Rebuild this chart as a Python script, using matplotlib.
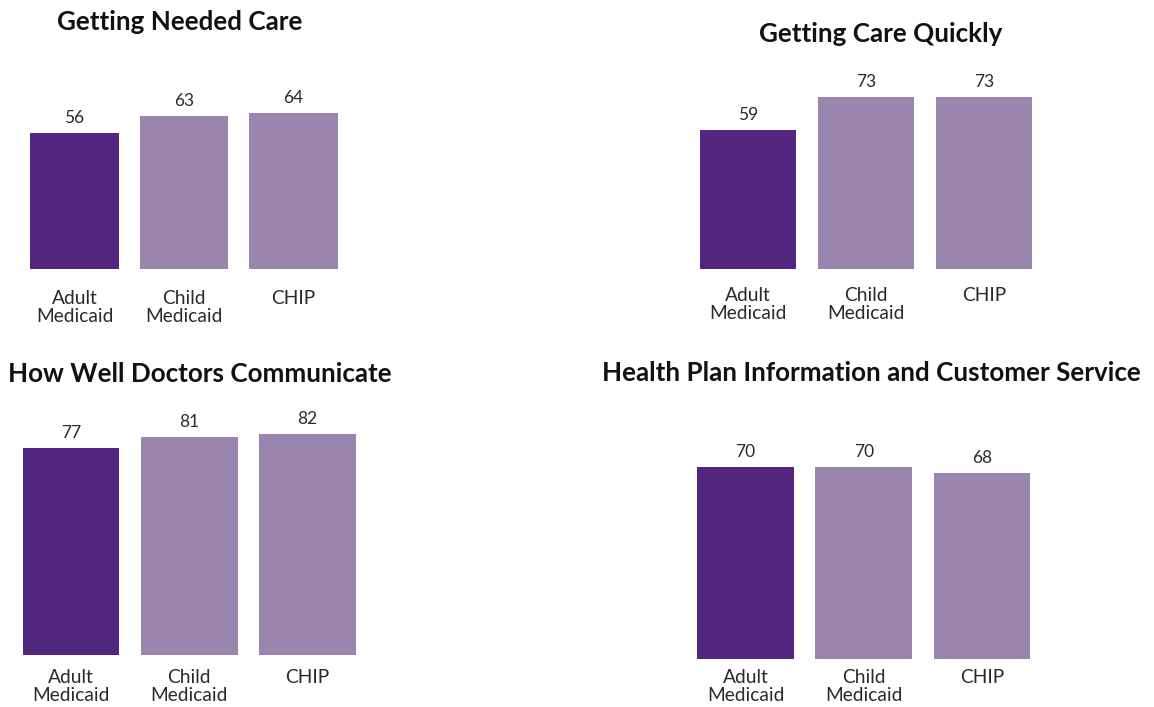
import matplotlib
matplotlib.use("Agg")
import matplotlib.pyplot as plt

W, H = 1154, 707
DPI = 100

categories = ["Adult\nMedicaid", "Child\nMedicaid", "CHIP"]
titles = ["Getting Needed Care", "Getting Care Quickly",
          "How Well Doctors Communicate", "Health Plan Information and Customer Service"]
needed_care = [56, 63, 64]
care_quickly = [59, 73, 73]
doctors_communicate = [77, 81, 82]
plan_info = [70, 70, 68]

DARK = "#53267F"
LIGHT = "#9985AD"
colors = [DARK, LIGHT, LIGHT]

plt.rcParams['font.family'] = ['Lato', 'DejaVu Sans']

fig = plt.figure(figsize=(W / DPI, H / DPI), dpi=DPI)

# panel layout in pixels: left, right, baseline (from top), px per unit, bar width, title x,y
panels = [
    dict(vals=needed_care, L=19.75, R=348.25, base=269, scale=2.43, bw=0.81, tx=180, ty=22, pad=15.4),
    dict(vals=care_quickly, L=689, R=1043, base=269, scale=2.36, bw=0.81, tx=881, ty=34, pad=13.3),
    dict(vals=doctors_communicate, L=11.9, R=366.6, base=655, scale=2.69, bw=0.82, tx=200, ty=374, pad=10.4),
    dict(vals=plan_info, L=686.4, R=1041.1, base=659, scale=2.74, bw=0.82, tx=871, ty=373, pad=7.5),
]

for p, title in zip(panels, titles):
    ymax = 100
    hpx = ymax * p["scale"]
    ax = fig.add_axes([p["L"] / W, (H - p["base"]) / H, (p["R"] - p["L"]) / W, hpx / H])
    x = list(range(len(categories)))
    bars = ax.bar(x, p["vals"], width=p["bw"], color=colors)
    ax.set_xlim(-0.5, 2.5)
    ax.set_ylim(0, ymax)
    for s in ax.spines.values():
        s.set_visible(False)
    ax.set_yticks([])
    ax.set_xticks(x)
    ax.set_xticklabels(categories, fontsize=13.8, color="#2a2a2a", linespacing=1.06)
    ax.tick_params(axis="x", length=0, pad=p["pad"])
    for b, v in zip(bars, p["vals"]):
        ax.annotate(f"{v}", (b.get_x() + b.get_width() / 2, v), xytext=(0, 15),
                    textcoords="offset pixels", ha="center", va="center",
                    fontsize=12.5, color="#2a2a2a")
    fig.text(p["tx"] / W, 1 - p["ty"] / H, title, ha="center", va="center",
             fontsize=18.7, fontweight="bold", color="#111111")

fig.savefig("out.png", dpi=DPI)
